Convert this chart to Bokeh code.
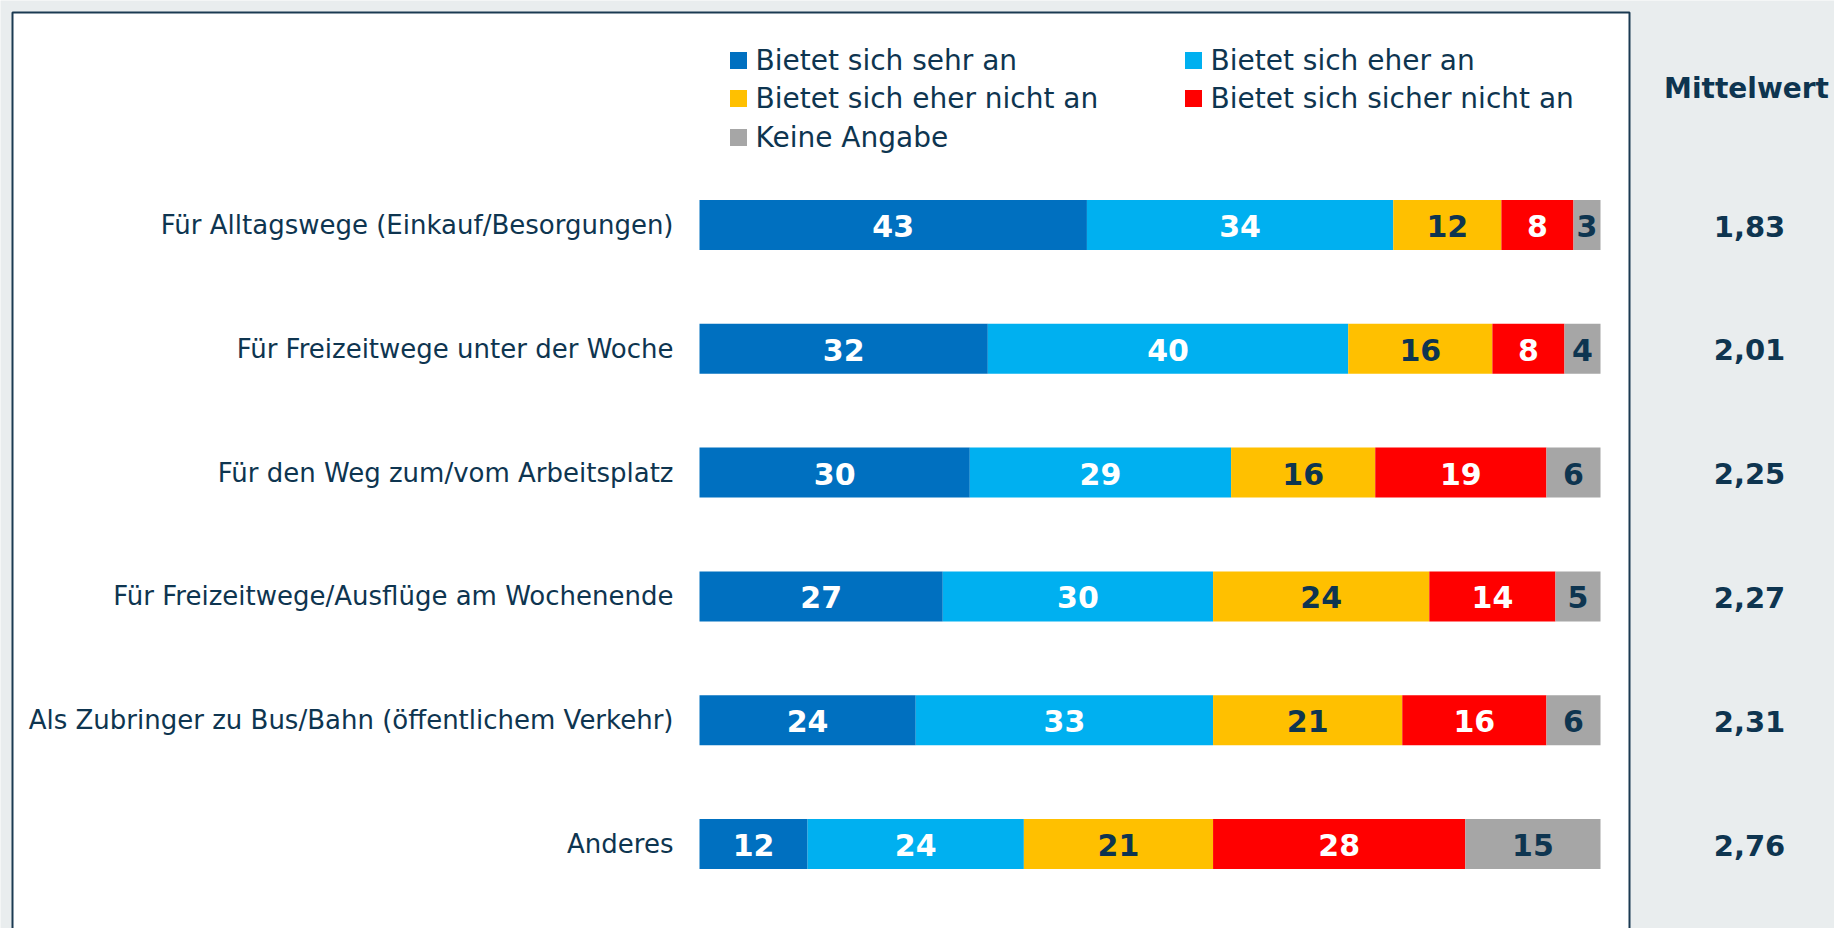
import numpy as np
from bokeh.plotting import figure
from bokeh.models import ColumnDataSource, Range1d
from bokeh.core.properties import value
from bokeh.embed import file_html
from bokeh.resources import INLINE

# ---------------- data ----------------
categories = [
    "Für Alltagswege (Einkauf/Besorgungen)",
    "Für Freizeitwege unter der Woche",
    "Für den Weg zum/vom Arbeitsplatz",
    "Für Freizeitwege/Ausflüge am Wochenende",
    "Als Zubringer zu Bus/Bahn (öffentlichem Verkehr)",
    "Anderes",
]
series_names = [
    "Bietet sich sehr an",
    "Bietet sich eher an",
    "Bietet sich eher nicht an",
    "Bietet sich sicher nicht an",
    "Keine Angabe",
]
sehr_an = [43, 32, 30, 27, 24, 12]
eher_an = [34, 40, 29, 30, 33, 24]
eher_nicht_an = [12, 16, 16, 24, 21, 21]
sicher_nicht_an = [8, 8, 19, 14, 16, 28]
keine_angabe = [3, 4, 6, 5, 6, 15]
mittelwert = [1.83, 2.01, 2.25, 2.27, 2.31, 2.76]
mittelwert_title = "Mittelwert"

series = [sehr_an, eher_an, eher_nicht_an, sicher_nicht_an, keine_angabe]
colors = ["#0070C0", "#00B0F0", "#FFC000", "#FF0000", "#A6A6A6"]
label_colors = ["white", "white", "#0E3550", "white", "#0E3550"]

DARK = "#0E3550"
FONT = "DejaVu Sans"

# ---------------- layout (canvas pixels) ----------------
W, H = 1834, 928
X0, SX = 699.0, 9.01      # bar start px, px per percent
Y0, SY = 224.5, 123.8     # first row centre px, px per row


def dx(px):
    return (px - X0) / SX


def dy(py):
    return (py - Y0) / SY


p = figure(width=W, height=H, output_backend="svg", toolbar_location=None,
           x_range=Range1d(dx(0), dx(W)), y_range=Range1d(dy(H), dy(0)),
           x_axis_type=None, y_axis_type=None, min_border=0,
           background_fill_color="#E9EDEE", border_fill_color="#E9EDEE")
p.grid.visible = False
p.outline_line_color = None

# white panel with border (top, left, right)
p.quad(left=dx(12), right=dx(1629), top=dy(12), bottom=dy(H + 20),
       fill_color="white", line_color=None)
p.line(x=[dx(12), dx(12), dx(1629), dx(1629)],
       y=[dy(H + 20), dy(12), dy(12), dy(H + 20)],
       line_color="#1B3A52", line_width=2)

# ---------------- bars ----------------
rows = np.arange(len(categories))
cum = np.zeros(len(categories))
for vals, col, lcol in zip(series, colors, label_colors):
    vals = np.array(vals, dtype=float)
    src = ColumnDataSource(dict(
        y=rows, left=cum.copy(), right=cum + vals,
        mid=cum + vals / 2, txt=[str(int(v)) for v in vals]))
    p.hbar(y="y", left="left", right="right", height=50 / SY, source=src,
           fill_color=col, line_color=None)
    p.text(x="mid", y="y", text="txt", source=src, text_align="center",
           text_baseline="middle", text_color=lcol, text_font=value(FONT),
           text_font_style="bold", text_font_size="30px", y_offset=1)
    cum = cum + vals

# category labels
cat_src = ColumnDataSource(dict(y=rows, x=np.zeros(len(rows)), txt=categories))
p.text(x="x", y="y", text="txt", source=cat_src, x_offset=-26,
       text_align="right", text_baseline="middle", text_color=DARK,
       text_font=value(FONT), text_font_size="26px")

# Mittelwert
mw_src = ColumnDataSource(dict(
    y=rows, x=np.full(len(rows), 100.0),
    txt=[f"{m:.2f}".replace(".", ",") for m in mittelwert]))
p.text(x="x", y="y", text="txt", source=mw_src, x_offset=149,
       text_align="center", text_baseline="middle", text_color=DARK,
       text_font=value(FONT), text_font_style="bold", text_font_size="29px",
       y_offset=1)
p.text(x=[100.0], y=[dy(88)], text=[mittelwert_title], x_offset=146,
       text_align="center", text_baseline="middle", text_color=DARK,
       text_font=value(FONT), text_font_style="bold", text_font_size="28px")

# ---------------- legend ----------------
leg_sq_x = [738, 1193, 738, 1193, 738]
leg_y = [60, 60, 98, 98, 137]
leg_src = ColumnDataSource(dict(
    x=[dx(v) for v in leg_sq_x], y=[dy(v) for v in leg_y],
    c=colors, txt=series_names))
p.scatter(x="x", y="y", source=leg_src, marker="square", size=17,
          fill_color="c", line_color=None)
p.text(x="x", y="y", text="txt", source=leg_src, x_offset=17,
       text_align="left", text_baseline="middle", text_color=DARK,
       text_font=value(FONT), text_font_size="28px")

open("out.html", "w").write(file_html(p, INLINE))
